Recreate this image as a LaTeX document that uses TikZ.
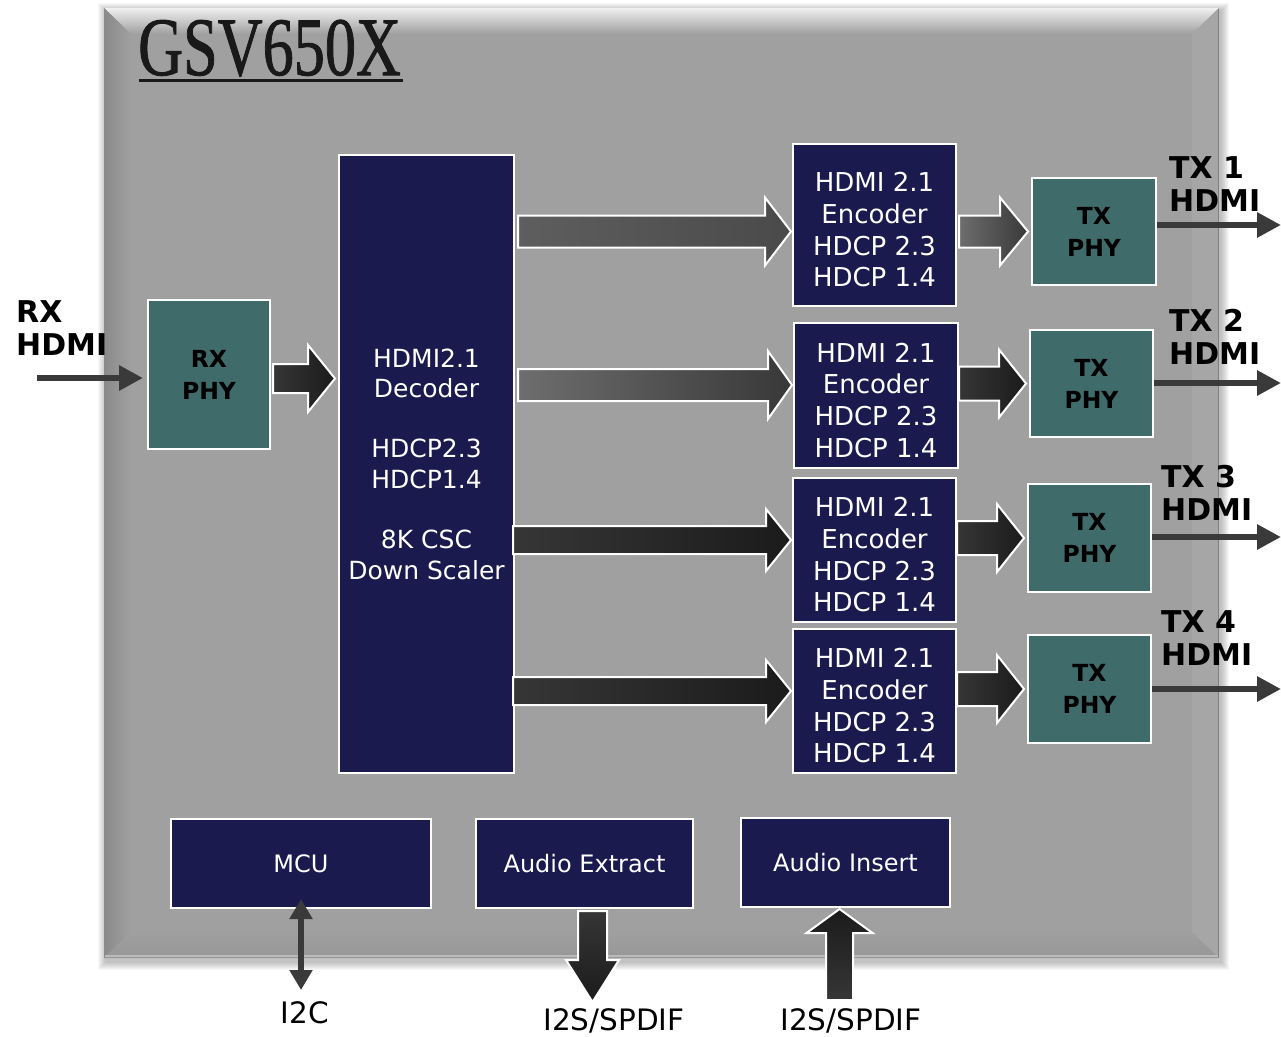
\documentclass[tikz,border=0pt]{standalone}
\usepackage{fontspec}
\setmainfont{DejaVu Sans}
\newfontfamily\titlefont[FakeBold=1.2]{Liberation Serif}
\usetikzlibrary{arrows.meta,calc}
\definecolor{chipgray}{HTML}{A0A0A0}
\definecolor{navy}{HTML}{1B1A4E}
\definecolor{phyteal}{HTML}{406B6B}
\definecolor{lineclr}{HTML}{3A3A3A}
\definecolor{darkA}{HTML}{363636}
\definecolor{darkB}{HTML}{1B1B1B}
\definecolor{grayA}{HTML}{5E5E5E}
\definecolor{grayB}{HTML}{4A4A4A}
\definecolor{grayC}{HTML}{6E6E6E}
\definecolor{grayD}{HTML}{383838}
% horizontal block arrow: start, end, shaft half, head half, head length, style
\newcommand{\harrow}[6]{\path[#6] let \p1=#1, \p2=#2 in
  (\x1,\y1+#3) -- (\x2-#5,\y1+#3) -- (\x2-#5,\y1+#4) -- (\x2,\y1) --
  (\x2-#5,\y1-#4) -- (\x2-#5,\y1-#3) -- (\x1,\y1-#3) -- cycle;}
% downward block arrow
\newcommand{\darrow}[6]{\path[#6] let \p1=#1, \p2=#2 in
  (\x1-#3,\y1) -- (\x1-#3,\y2+#5) -- (\x1-#4,\y2+#5) -- (\x1,\y2) --
  (\x1+#4,\y2+#5) -- (\x1+#3,\y2+#5) -- (\x1+#3,\y1) -- cycle;}
% upward block arrow
\newcommand{\uarrow}[6]{\path[#6] let \p1=#1, \p2=#2 in
  (\x1-#3,\y1) -- (\x1-#3,\y2-#5) -- (\x1-#4,\y2-#5) -- (\x1,\y2) --
  (\x1+#4,\y2-#5) -- (\x1+#3,\y2-#5) -- (\x1+#3,\y1) -- cycle;}
\newcommand{\enctext}{\rule{0pt}{29pt}HDMI 2.1\\Encoder\\HDCP 2.3\\HDCP 1.4}
\tikzset{
  navybox/.style={draw=white, line width=2pt, fill=navy, text=white, align=center, inner sep=0pt},
  decbox/.style={navybox, font=\fontsize{25}{30.3}\selectfont},
  encbox/.style={navybox, font=\fontsize{26}{31.7}\selectfont},
  bottombox/.style={navybox, font=\fontsize{24}{28}\selectfont},
  phybox/.style={draw=white, line width=2pt, fill=phyteal, text=black, align=center, inner sep=0pt,
    font=\bfseries\fontsize{23.5}{32}\selectfont},
  blockarrow/.style={draw=white, line width=2pt},
  darkgrad/.style={blockarrow, left color=darkA, right color=darkB},
  graygrad/.style={blockarrow, left color=grayA, right color=grayB},
  gray2grad/.style={blockarrow, left color=grayC, right color=grayD},
  thinarrow/.style={draw=lineclr, line width=6pt, -{Triangle[length=24pt,width=24pt]}},
  extlabel/.style={font=\bfseries\fontsize{30}{33}\selectfont, align=left, text=black, inner sep=0pt},
  pinlabel/.style={font=\fontsize{29.5}{32}\selectfont, inner sep=0pt, text=black},
}
\begin{document}
\begin{tikzpicture}[x=1pt,y=-1pt]
\useasboundingbox (0,0) rectangle (1281,1036);
\fill[white] (0,0) rectangle (1281,1036);
% chip shadow
\foreach \i in {1,...,8}
  \fill[black, opacity=0.03] ({104-\i+2},{8-\i+3}) rectangle ({1219+\i+2},{958+\i+4});
% chip body with bevel
\fill[chipgray] (104,8) rectangle (1219,958);
\shade[top color=black!6, bottom color=chipgray] (104,8) -- (1219,8) -- (1192,34) -- (131,34) -- cycle;
\shade[left color=black!46, right color=chipgray] (104,8) -- (131,34) -- (131,932) -- (104,958) -- cycle;
\fill[black!35] (1219,8) -- (1192,34) -- (1192,932) -- (1219,958) -- cycle;
\shade[top color=chipgray, bottom color=black!41] (104,958) -- (131,932) -- (1192,932) -- (1219,958) -- cycle;
\draw[black!27, line width=2pt] (105,956) -- (1218,956);
\draw[black!50, line width=1.5pt] (1218.5,9) -- (1218.5,957);
% title
\node[font=\titlefont\fontsize{83}{83}\selectfont, xscale=0.75, anchor=base west, inner sep=0pt, text=black!90] (title) at (138,75) {GSV650X};
\draw[line width=3pt, black!90] (139,80) -- (403,80);

% blocks
\node[phybox, minimum width=122pt, minimum height=149pt] (rx) at (209,374.5) {RX\\PHY};
\node[decbox, minimum width=175pt, minimum height=618pt] (dec) at (426.5,464)
  {HDMI2.1\\Decoder\\[30.3pt]HDCP2.3\\HDCP1.4\\[30.3pt]8K CSC\\Down Scaler};
\node[encbox, minimum width=163pt, minimum height=162pt] (enc1) at (874.5,225) {\enctext};
\node[encbox, minimum width=164pt, minimum height=145pt] (enc2) at (876,395.5) {\enctext};
\node[encbox, minimum width=163pt, minimum height=144pt] (enc3) at (874.5,550) {\enctext};
\node[encbox, minimum width=163pt, minimum height=144pt] (enc4) at (874.5,701) {\enctext};
\node[phybox, minimum width=124pt, minimum height=107pt] (tx1) at (1094,231.5) {TX\\PHY};
\node[phybox, minimum width=123pt, minimum height=107pt] (tx2) at (1091.5,383.5) {TX\\PHY};
\node[phybox, minimum width=123pt, minimum height=108pt] (tx3) at (1089.5,538) {TX\\PHY};
\node[phybox, minimum width=123pt, minimum height=108pt] (tx4) at (1089.5,689) {TX\\PHY};
\node[bottombox, minimum width=260pt, minimum height=89pt] (mcu) at (301,863.5) {MCU};
\node[bottombox, minimum width=217pt, minimum height=89pt] (ae) at (584.5,863.5) {Audio Extract};
\node[bottombox, minimum width=209pt, minimum height=89pt] (ai) at (845.5,862.5) {Audio Insert};

% block arrows
\harrow{($(rx.east)+(2,4)$)}{($(dec.west|-rx)+(-3,4)$)}{14.5pt}{33.5pt}{27pt}{darkgrad}
\harrow{($(dec.east|-tx1)+(3,0)$)}{($(enc1.west|-tx1)+(-1,0)$)}{16pt}{34pt}{26pt}{graygrad}
\harrow{($(dec.east|-tx2)+(3,1.5)$)}{($(enc2.west|-tx2)+(-1,1.5)$)}{16pt}{34pt}{24pt}{gray2grad}
\harrow{($(dec.east|-tx3)+(-2,2)$)}{($(enc3.west|-tx3)+(-1,2)$)}{14pt}{31pt}{25pt}{darkgrad}
\harrow{($(dec.east|-tx4)+(-2,2)$)}{($(enc4.west|-tx4)+(-1,2)$)}{14pt}{31pt}{25pt}{darkgrad}
\harrow{($(enc1.east|-tx1)+(2,0)$)}{($(tx1.west)+(-3,0)$)}{16pt}{34pt}{28pt}{gray2grad}
\harrow{($(enc2.east|-tx2)+(0,0)$)}{($(tx2.west)+(-3,0)$)}{17pt}{34pt}{27pt}{darkgrad}
\harrow{($(enc3.east|-tx3)+(0,0)$)}{($(tx3.west)+(-3,0)$)}{17pt}{34pt}{27pt}{darkgrad}
\harrow{($(enc4.east|-tx4)+(0,0)$)}{($(tx4.west)+(-3,0)$)}{17pt}{34pt}{27pt}{darkgrad}

% external connections
\coordinate (rxin) at (37,378);
\coordinate (out1) at (1281,225);
\coordinate (out2) at (1281,383);
\coordinate (out3) at (1281,537);
\coordinate (out4) at (1281,689);
\coordinate (i2c) at (301,990);
\coordinate (extout) at (592.5,1002);
\coordinate (insin) at (839.5,1000);
\draw[thinarrow, shorten >=4pt] (rxin) -- (rxin -| rx.west);
\draw[thinarrow] (out1 -| tx1.east) -- (out1);
\draw[thinarrow] (out2 -| tx2.east) -- (out2);
\draw[thinarrow] (out3 -| tx3.east) -- (out3);
\draw[thinarrow] (out4 -| tx4.east) -- (out4);
\draw[draw=lineclr, line width=6pt, {Triangle[length=20pt,width=22pt]}-{Triangle[length=20pt,width=22pt]}, shorten <=-10pt] (mcu.south) -- (i2c);
\darrow{($(extout|-ae.south)+(0,2)$)}{(extout)}{14.5pt}{26.5pt}{42pt}{blockarrow, top color=darkA, bottom color=darkB}
\uarrow{(insin)}{($(insin|-ai.south)+(0,1)$)}{13.5pt}{33pt}{24pt}{blockarrow, bottom color=darkA, top color=darkB}

% labels
\node[extlabel, anchor=west] (rxlab) at (16,328.5) {RX\\HDMI};
\node[extlabel, anchor=west] (tx1lab) at (1169,184.5) {TX 1\\HDMI};
\node[extlabel, anchor=west] (tx2lab) at (1169,337) {TX 2\\HDMI};
\node[extlabel, anchor=west] (tx3lab) at (1161,492.5) {TX 3\\HDMI};
\node[extlabel, anchor=west] (tx4lab) at (1161,638) {TX 4\\HDMI};
\node[pinlabel] (i2clab) at (305,1013) {I2C};
\node[pinlabel] (extlab) at (614,1021) {I2S/SPDIF};
\node[pinlabel] (inslab) at (851,1021) {I2S/SPDIF};
\end{tikzpicture}
\end{document}
